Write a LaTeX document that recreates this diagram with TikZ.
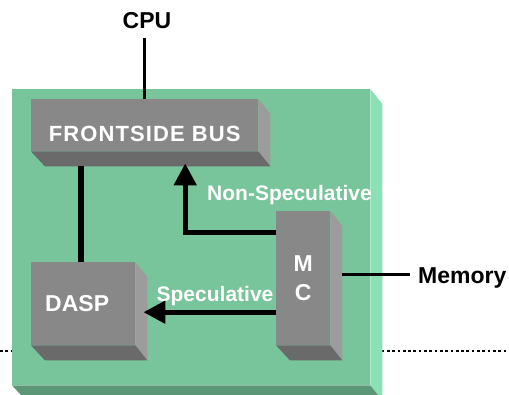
\documentclass[tikz,border=0pt]{standalone}
\usepackage{fontspec}
\setmainfont{Liberation Sans}
\usetikzlibrary{arrows.meta, positioning}

\definecolor{boardfront}{HTML}{78C59B}
\definecolor{boardside}{HTML}{8BE0B5}
\definecolor{boardbase}{HTML}{5B9777}
\definecolor{slabfront}{HTML}{888888}
\definecolor{slabside}{HTML}{9C9C9C}
\definecolor{slabbase}{HTML}{6A6A6A}

% side and bottom faces of a block, hung on its front node
\newcommand{\slabfaces}[3]{%
  \fill[#2] (#1.north east) -- ++(12,15) -- ([shift={(12,15)}]#1.south east) -- (#1.south east) -- cycle;
  \fill[#3] (#1.south west) -- (#1.south east) -- ([shift={(12,15)}]#1.south east) -- ([shift={(14,15)}]#1.south west) -- cycle;
}

\begin{document}
\begin{tikzpicture}[
  x=1pt, y=-1pt,
  board/.style={fill=boardfront, anchor=north west, inner sep=0pt},
  slab/.style={fill=slabfront, anchor=north west, inner sep=0pt, text=white,
    font=\bfseries\fontsize{23}{29}\selectfont},
  tag/.style={font=\bfseries\fontsize{23}{27}\selectfont},
  flowlabel/.style={text=white, font=\bfseries\fontsize{21}{25}\selectfont, inner sep=0pt},
  wire/.style={line width=2.7pt},
  link/.style={line width=5.5pt},
  flow/.style={line width=5pt, -{Triangle[length=22pt, width=22pt]}},
  rule/.style={line width=2pt, dash pattern=on 2.7pt off 2.6pt}
]
\clip (0,0) rectangle (509,394);

\coordinate (rule-w) at (0,351);
\coordinate (rule-e) at (509,351);
\draw[rule] (rule-w) -- (rule-e);

\node[board, minimum width=358pt, minimum height=296pt] (board) at (12,89) {};
\slabfaces{board}{boardside}{boardbase}

\node[slab, minimum width=227pt, minimum height=52pt, text height=32pt, text depth=0pt,
  font=\bfseries\fontsize{22}{26}\selectfont\addfontfeatures{LetterSpace=5}] (fsb) at (31,99) {FRONTSIDE BUS};
\slabfaces{fsb}{slabside}{slabbase}
\node[slab, minimum width=104pt, minimum height=83pt] (dasp) at (31,262) {DASP\hspace*{12pt}};
\slabfaces{dasp}{slabside}{slabbase}
\node[slab, minimum width=54pt, minimum height=134pt, align=center] (mc) at (276,211) {M\\C};
\slabfaces{mc}{slabside}{slabbase}

\node[tag, inner ysep=9pt] (cpu) at (147,21) {CPU};
\node[tag, anchor=west, inner xsep=8pt, inner ysep=0pt] (memory) at (410,278) {Memory};
\node[flowlabel] (nonspec) at (289.5,195) {Non-Speculative};
\node[flowlabel] (speclabel) at (215,296) {Speculative};

\coordinate (fsb-base) at ([yshift=-15pt]fsb.south);
\coordinate (mc-port) at ([xshift=12pt, yshift=4pt]mc.east);
\coordinate (spec-start) at ([yshift=-34pt]mc.west);
\coordinate (dasp-side) at ([xshift=8pt]dasp.east);

\draw[wire] (fsb.north |- cpu.south) -- (fsb.north);
\draw[wire] (mc-port) -- (mc-port -| memory.west);
\draw[link] ([xshift=-2pt]dasp.north) -- ([xshift=-2pt]dasp.north |- fsb-base);
\draw[flow] ([yshift=46pt]mc.west) -| ([xshift=40.5pt, yshift=-12pt]fsb.south);
\draw[flow] (spec-start) -- (spec-start -| dasp-side);
\end{tikzpicture}
\end{document}
